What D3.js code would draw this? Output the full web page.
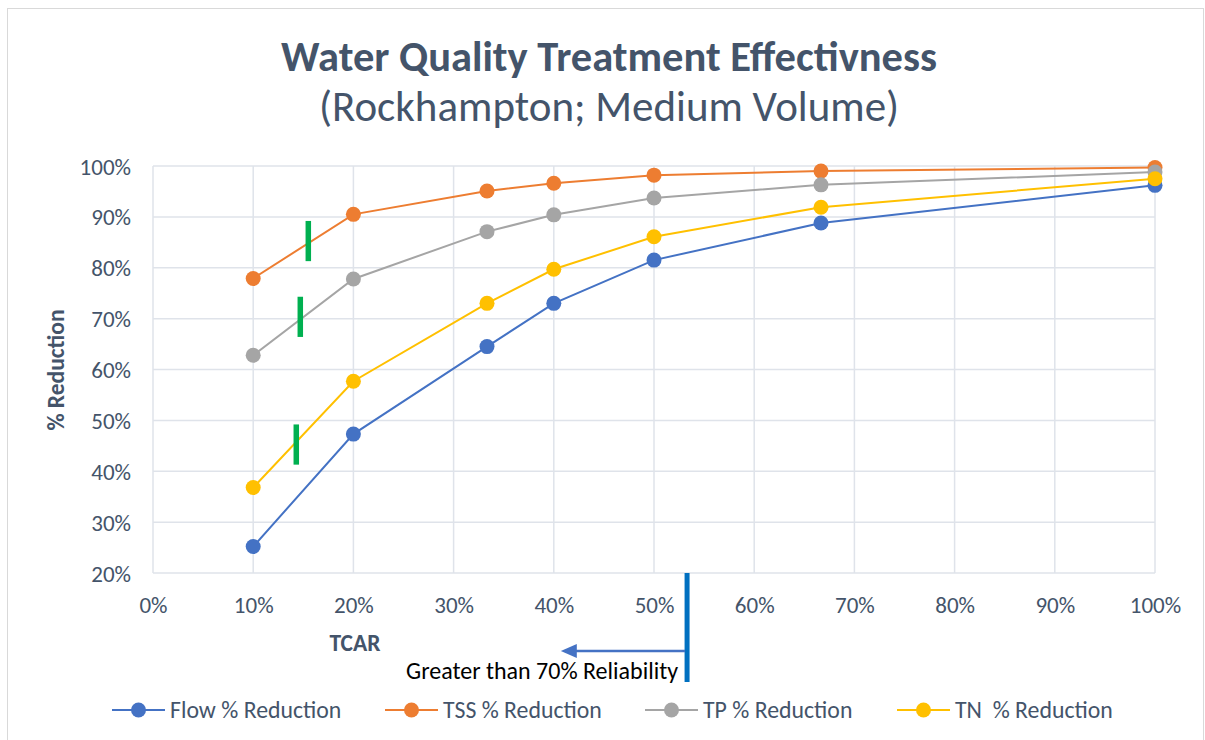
<!DOCTYPE html>
<html>
<head>
<meta charset="utf-8">
<script src="https://cdn.jsdelivr.net/npm/d3@7"></script>
<style>
  html, body { margin: 0; padding: 0; background: #fff; }
  svg { display: block; }
  text { font-family: Carlito, Lato, "Open Sans", sans-serif; }
</style>
</head>
<body>
<svg id="chart" width="1205" height="740"></svg>
<script>
// TCAR (treatment catchment area ratio) sample points
const tcar = [0.10, 0.20, 1 / 3, 0.40, 0.50, 2 / 3, 1.00];

// Percent reductions per constituent
const flowReduction = [0.252, 0.473, 0.645, 0.730, 0.815, 0.888, 0.962];
const tssReduction  = [0.779, 0.905, 0.951, 0.966, 0.982, 0.990, 0.997];
const tpReduction   = [0.628, 0.778, 0.871, 0.904, 0.937, 0.963, 0.988];
const tnReduction   = [0.368, 0.577, 0.730, 0.797, 0.861, 0.919, 0.975];

const seriesNames = ["Flow % Reduction", "TSS % Reduction", "TP % Reduction", "TN  % Reduction"];
const seriesColors = ["#4472C4", "#ED7D31", "#A5A5A5", "#FFC000"];
const seriesValues = [flowReduction, tssReduction, tpReduction, tnReduction];

const xTicks = [0, 0.1, 0.2, 0.3, 0.4, 0.5, 0.6, 0.7, 0.8, 0.9, 1.0];
const yTicks = [0.2, 0.3, 0.4, 0.5, 0.6, 0.7, 0.8, 0.9, 1.0];

// 70% reliability markers: [tcar, lower, upper] on each curve
const reliabilityMarks = [
  [0.155, 0.813, 0.892],
  [0.147, 0.664, 0.743],
  [0.143, 0.413, 0.492]
];
// TCAR threshold for the reliability annotation, and the arrow's end
const reliabilityTcar = 0.533;
const arrowTipTcar = 0.407;

const svg = d3.select("#chart");
const W = 1205, H = 740;
const textColor = "#44546A";
const fontStack = "Carlito, Lato, 'Open Sans', sans-serif";

// chart frame
svg.append("rect").attr("x", 7.5).attr("y", 8.5).attr("width", W - 9).attr("height", H - 4)
  .attr("fill", "#fff").attr("stroke", "#D9D9D9").attr("stroke-width", 1);

const x = d3.scaleLinear().domain([0, 1]).range([153, 1155]);
const y = d3.scaleLinear().domain([0.2, 1]).range([573, 166]);

// title
svg.append("text").attr("x", 609).attr("y", 71).attr("text-anchor", "middle")
  .attr("font-size", 42.5).attr("font-weight", "bold").attr("fill", textColor)
  .text("Water Quality Treatment Effectivness");
svg.append("text").attr("x", 609).attr("y", 121).attr("text-anchor", "middle")
  .attr("font-size", 43).attr("fill", textColor)
  .text("(Rockhampton; Medium Volume)");

// gridlines
const grid = svg.append("g").attr("stroke", "#DFE3EA").attr("stroke-width", 1.5);
grid.selectAll("line.h").data(yTicks).join("line").attr("class", "h")
  .attr("x1", x(0)).attr("x2", x(1)).attr("y1", d => y(d)).attr("y2", d => y(d));
grid.selectAll("line.v").data(xTicks).join("line").attr("class", "v")
  .attr("x1", d => x(d)).attr("x2", d => x(d)).attr("y1", y(0.2)).attr("y2", y(1));

// axes
const fmt = d3.format(".0%");
const yAxis = svg.append("g").attr("transform", `translate(131,0)`)
  .call(d3.axisLeft(y).tickValues(yTicks).tickFormat(fmt).tickSize(0).tickPadding(0));
const xAxis = svg.append("g").attr("transform", `translate(0,${y(0.2)})`)
  .call(d3.axisBottom(x).tickValues(xTicks).tickFormat(fmt).tickSize(0).tickPadding(0));
[yAxis, xAxis].forEach(g => {
  g.select(".domain").remove();
  g.selectAll("text").attr("font-size", 23).attr("fill", textColor)
    .attr("font-family", fontStack);
});
yAxis.selectAll("text").attr("x", 0).attr("dy", "0.35em");
xAxis.selectAll("text").attr("y", 31.5).attr("dy", "0.35em");

// axis titles
svg.append("text").attr("transform", `translate(56,370) rotate(-90)`)
  .attr("text-anchor", "middle").attr("dy", "0.35em").attr("font-size", 23.5)
  .attr("font-weight", "bold").attr("fill", textColor).text("% Reduction");
svg.append("text").attr("x", 355).attr("y", 651).attr("text-anchor", "middle")
  .attr("font-size", 23.5).attr("font-weight", "bold").attr("fill", textColor).text("TCAR");

// series
const line = d3.line().x((d, i) => x(tcar[i])).y(d => y(d));
seriesValues.forEach((vals, s) => {
  const g = svg.append("g");
  g.append("path").datum(vals).attr("d", line).attr("fill", "none")
    .attr("stroke", seriesColors[s]).attr("stroke-width", 2);
  g.selectAll("circle").data(vals).join("circle")
    .attr("cx", (d, i) => x(tcar[i])).attr("cy", d => y(d)).attr("r", 7.5)
    .attr("fill", seriesColors[s]);
});

// reliability markers on curves
svg.selectAll("rect.rel").data(reliabilityMarks).join("rect").attr("class", "rel")
  .attr("x", d => x(d[0]) - 2.75).attr("width", 5.5)
  .attr("y", d => y(d[2])).attr("height", d => y(d[1]) - y(d[2]))
  .attr("fill", "#00B050");

// reliability threshold annotation
const ax = x(reliabilityTcar);
svg.append("line").attr("x1", ax).attr("x2", ax).attr("y1", y(0.2)).attr("y2", 682)
  .attr("stroke", "#0070C0").attr("stroke-width", 5);
const ay = 651;
const tip = x(arrowTipTcar);
svg.append("line").attr("x1", ax - 2).attr("x2", tip + 12).attr("y1", ay).attr("y2", ay)
  .attr("stroke", "#4472C4").attr("stroke-width", 2.5);
svg.append("path").attr("d", `M${tip},${ay} L${tip + 16},${ay - 7} L${tip + 16},${ay + 7} Z`)
  .attr("fill", "#4472C4");
svg.append("text").attr("x", 406).attr("y", 679).attr("font-size", 24).attr("fill", "#000")
  .text("Greater than 70% Reliability");

// legend
const legendX = [112, 385, 645, 897];
const legend = svg.append("g");
seriesNames.forEach((name, i) => {
  const lx = legendX[i], ly = 710;
  legend.append("line").attr("x1", lx).attr("x2", lx + 53).attr("y1", ly).attr("y2", ly)
    .attr("stroke", seriesColors[i]).attr("stroke-width", 2);
  legend.append("circle").attr("cx", lx + 26.5).attr("cy", ly).attr("r", 7.5)
    .attr("fill", seriesColors[i]);
  legend.append("text").attr("x", lx + 58).attr("y", ly).attr("dy", "0.35em")
    .attr("font-size", 23.8).attr("fill", textColor)
    .style("white-space", "pre").text(name);
});
</script>
</body>
</html>
